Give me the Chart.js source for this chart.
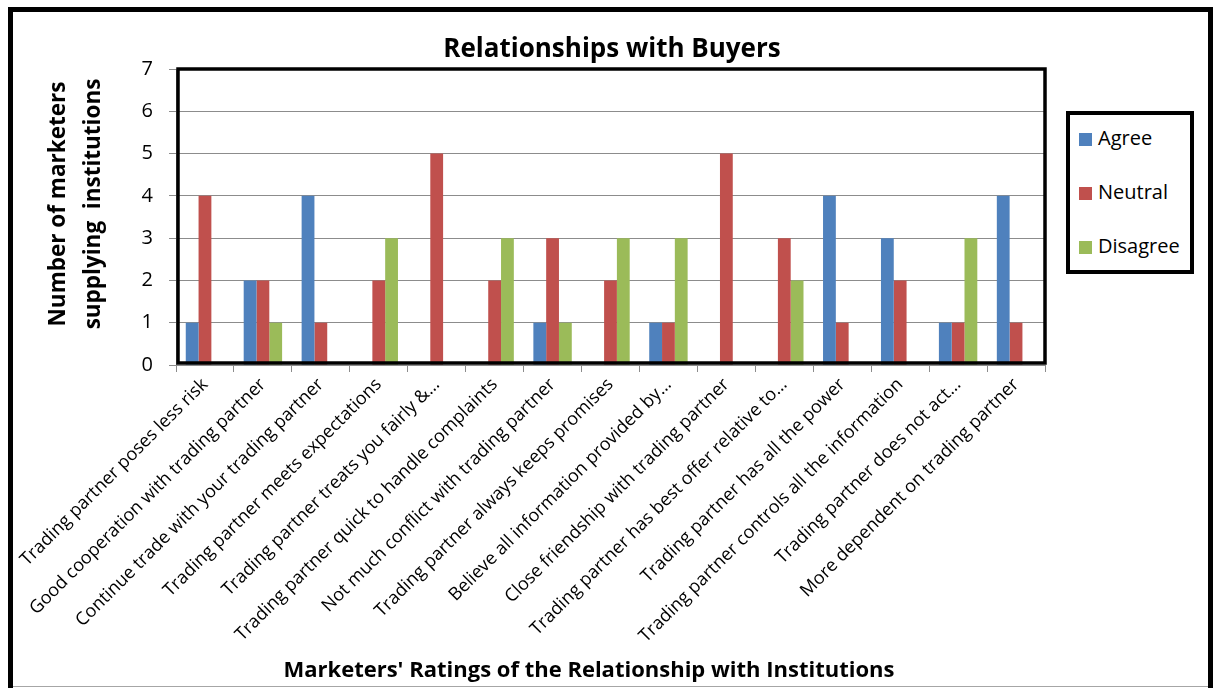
<!DOCTYPE html>
<html>
<head>
<meta charset="utf-8">
<script src="https://cdn.jsdelivr.net/npm/chart.js@4/dist/chart.umd.min.js"></script>
<style>
  html, body { margin: 0; padding: 0; background: #fff; }
  body { width: 1214px; height: 688px; position: relative; overflow: hidden; font-family: "Open Sans", sans-serif; color: #000; }
  #chart { position: absolute; left: 0; top: 0; }
  .frame { position: absolute; left: 8px; top: 7px; width: 1205px; height: 720px; box-sizing: border-box; border: 5px solid #000; pointer-events: none; }
  .bottomline { position: absolute; left: 13px; top: 686px; width: 1195px; height: 1px; background: #a6a6a6; }
  .title { position: absolute; left: 312px; top: 34px; width: 600px; text-align: center; font-size: 26px; line-height: 26px; font-weight: bold; }
  .xtitle { position: absolute; left: 89px; top: 657px; width: 1000px; text-align: center; font-size: 22px; line-height: 22px; font-weight: bold; }
  .ytitle { position: absolute; left: -76px; top: 169px; width: 300px; height: 70px; text-align: center; font-size: 22.5px; line-height: 35px; font-weight: bold; transform: rotate(-90deg); white-space: nowrap; }
  .legend { position: absolute; left: 1066px; top: 111px; width: 128px; height: 163px; box-sizing: border-box; border: 4px solid #000; background: #fff; }
  .legend .item { position: absolute; left: 9px; height: 24px; display: flex; align-items: center; font-size: 20px; line-height: 24px; }
  .legend .box { width: 13px; height: 13px; margin-right: 6px; margin-top: 2px; }
</style>
</head>
<body>
<canvas id="chart" width="1214" height="688"></canvas>
<div class="title">Relationships with Buyers</div>
<div class="ytitle">Number of marketers<br>supplying&nbsp; institutions</div>
<div class="xtitle">Marketers' Ratings of the Relationship with Institutions</div>
<div class="legend" id="legend"></div>
<div class="bottomline"></div>
<div class="frame"></div>

<script>
"use strict";

// Kategorier (x-axeln)
const categories = [
    "Trading partner poses less risk",
    "Good cooperation with trading partner",
    "Continue trade with your trading partner",
    "Trading partner meets expectations",
    "Trading partner treats you fairly &…",
    "Trading partner quick to handle complaints",
    "Not much conflict with trading partner",
    "Trading partner always keeps promises",
    "Believe all information provided by…",
    "Close friendship with trading partner",
    "Trading partner has best offer relative to…",
    "Trading partner has all the power",
    "Trading partner controls all the information",
    "Trading partner does not act…",
    "More dependent on trading partner"
];

// Serier
const agree    = [1, 2, 4, 0, 0, 0, 1, 0, 1, 0, 0, 4, 3, 1, 4];
const neutral  = [4, 2, 1, 2, 5, 2, 3, 2, 1, 5, 3, 1, 2, 1, 1];
const disagree = [0, 1, 0, 3, 0, 3, 1, 3, 3, 0, 2, 0, 0, 3, 0];

const seriesNames = ["Agree", "Neutral", "Disagree"];
const seriesColors = ["#4F81BD", "#C0504D", "#9BBB59"];

// y-axelns skala
const yMin = 0;
const yMax = 7;
const yStep = 1;

const gridGray = "#8c8c8c";

// Svart ram runt diagramytan
const plotFrame = {
    id: "plotFrame",
    afterDraw(chart) {
        const { ctx, chartArea } = chart;
        ctx.save();
        ctx.strokeStyle = "#000";
        ctx.lineWidth = 3.5;
        ctx.strokeRect(chartArea.left + 2, chartArea.top, chartArea.right - chartArea.left - 2, chartArea.bottom - chartArea.top - 2);
        ctx.restore();
    }
};

const ctx = document.getElementById("chart");

const barChart = new Chart(ctx, {
    type: "bar",
    data: {
        labels: categories,
        datasets: [agree, neutral, disagree].map((values, i) => ({
            label: seriesNames[i],
            data: values,
            backgroundColor: seriesColors[i],
            borderWidth: 0,
            barPercentage: 1,
            categoryPercentage: 0.663
        }))
    },
    options: {
        responsive: false,
        animation: false,
        layout: {
            padding: { top: 69, left: 10, right: 169, bottom: 0 }
        },
        plugins: {
            legend: { display: false },
            title: { display: false },
            tooltip: { enabled: false }
        },
        scales: {
            x: {
                grid: {
                    drawOnChartArea: false,
                    drawTicks: true,
                    tickLength: 7,
                    color: gridGray
                },
                border: { display: true, color: gridGray, width: 1 },
                ticks: {
                    autoSkip: false,
                    maxRotation: 45,
                    minRotation: 45,
                    padding: 2,
                    color: "#000",
                    font: { family: "'Open Sans'", size: 18 }
                },
                afterFit(scale) {
                    // etiketterna får gå ut till vänster utan att flytta diagramytan
                    scale.height = 323;
                    scale.paddingLeft = 0;
                    scale.paddingRight = 0;
                }
            },
            y: {
                min: yMin,
                max: yMax,
                grid: {
                    color: gridGray,
                    lineWidth: 1,
                    tickLength: 7
                },
                border: { display: true, color: gridGray, width: 1 },
                ticks: {
                    stepSize: yStep,
                    padding: 16,
                    color: "#000",
                    font: { family: "'Open Sans'", size: 20 }
                },
                afterFit(scale) {
                    scale.width = 166;
                }
            }
        }
    },
    plugins: [plotFrame]
});

// Förklaring (legend) byggs från serierna
const legend = document.getElementById("legend");
seriesNames.forEach((name, i) => {
    const item = document.createElement("div");
    item.className = "item";
    item.style.top = (11 + 54 * i) + "px";
    item.innerHTML = '<span class="box" style="background:' + seriesColors[i] + '"></span>' + name;
    legend.appendChild(item);
});
</script>
</body>
</html>
